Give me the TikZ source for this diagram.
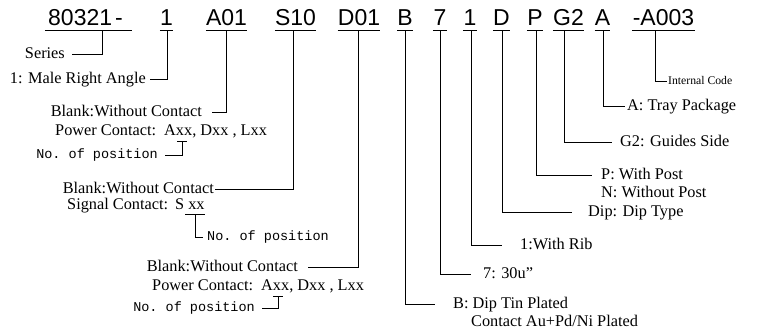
\documentclass[tikz,border=0pt]{standalone}
\usepackage{fontspec}
\setmainfont{Liberation Serif}
\setmonofont{Liberation Mono}
\newfontfamily\codefont{Liberation Sans}
\begin{document}
\begin{tikzpicture}[x=1pt,y=-1pt,
  code/.style={font=\codefont\fontsize{23}{23}\selectfont, anchor=base, inner xsep=0pt, inner ysep=4.5pt, text depth=0pt},
  uline/.style={line width=1pt},
  conn/.style={line width=0.8pt},
  lab/.style={font=\fontsize{16.3}{17}\selectfont, inner sep=0pt, yshift=-4pt},
  labr/.style={lab, anchor=base west},
  labl/.style={lab, anchor=base east},
  mono/.style={font=\ttfamily\fontsize{13.5}{14}\selectfont, inner sep=0pt, yshift=-3pt},
  small/.style={font=\fontsize{11.7}{12}\selectfont, inner sep=0pt, anchor=base west, yshift=-3pt}]
\useasboundingbox[fill=white] (0,0) rectangle (775,333);
% code items
\node[code, minimum width=87pt] (c0) at (88.5,25.5) {80321\kern3pt-\kern6pt};
\node[code, minimum width=13pt] (c1) at (166.5,25.5) {1};
\node[code, minimum width=41pt] (c2) at (226.5,25.5) {A01};
\node[code, minimum width=39pt] (c3) at (295.5,25.5) {S10};
\node[code, minimum width=42pt] (c4) at (359,25.5) {D01};
\node[code, minimum width=14pt] (c5) at (405,25.5) {B};
\node[code, minimum width=14pt] (c6) at (440,25.5) {7};
\node[code, minimum width=14pt] (c7) at (470,25.5) {1};
\node[code, minimum width=17pt] (c8) at (501.5,25.5) {D};
\node[code, minimum width=16pt] (c9) at (535,25.5) {P};
\node[code, minimum width=23pt] (c10) at (568.5,25.5) {G2};
\node[code, minimum width=15pt] (c11) at (602.5,25.5) {A};
\node[code, minimum width=63pt] (c12) at (663.5,25.5) {-A003};
\foreach \n in {c0,c1,c2,c3,c4,c5,c6,c7,c8,c9,c10,c11,c12}
  \draw[uline] (\n.south west) -- (\n.south east);
% left side
\node[labl] (series) at (65,54) {Series};
\draw[conn] (c0.south -| 102,0) |- ([xshift=7pt,yshift=4pt]series.base east);
\node[labl] (male) at (146,79) {1: Male Right Angle};
\draw[conn] (c1.south -| 167,0) |- ([xshift=4pt,yshift=4pt]male.base east);
% A01
\node[labl] (blankA) at (202,112) {Blank:Without Contact};
\draw[conn] (c2.south -| 226,0) |- ([xshift=10pt,yshift=4pt]blankA.base east);
\node[labr] (powA) at (55,131) {Power Contact:};
\node[labr] (axA) at (164,131) {Axx, Dxx , Lxx};
\coordinate (uA) at ([xshift=18pt,yshift=-6pt]axA.base west);
\draw[conn] ([xshift=-5pt]uA) -- ([xshift=5pt]uA);
\node[mono, anchor=base east] (noA) at (158,155) {No. of position};
\draw[conn] (uA) |- ([xshift=7pt,yshift=3pt]noA.base east);
% S10
\node[labl] (blankS) at (214,189) {Blank:Without Contact};
\draw[conn] (c3.south -| 293,0) |- ([xshift=1pt,yshift=4pt]blankS.base east);
\node[labr] (sig) at (67,205) {Signal Contact:};
\node[labr] (sxx) at (175,205) {S xx};
\coordinate (uS) at ([xshift=20pt,yshift=-5pt]sxx.base west);
\draw[conn] ([xshift=-10pt]uS) -- ([xshift=10pt]uS);
\node[mono, anchor=base west] (noS) at (207,237) {No. of position};
\draw[conn] (uS) |- ([xshift=-4pt,yshift=3pt]noS.base west);
% D01
\node[labl] (blankD) at (298,267) {Blank:Without Contact};
\draw[conn] (c4.south -| 358,0) |- ([xshift=10pt,yshift=4pt]blankD.base east);
\node[labr] (powD) at (152,286) {Power Contact:};
\node[labr] (axD) at (261,286) {Axx, Dxx , Lxx};
\coordinate (uD) at ([xshift=17pt,yshift=-6pt]axD.base west);
\draw[conn] ([xshift=-5pt]uD) -- ([xshift=5pt]uD);
\node[mono, anchor=base east] (noD) at (255,308) {No. of position};
\draw[conn] (uD) |- ([xshift=7pt,yshift=3pt]noD.base east);
% right side
\node[small] (internal) at (668,81) {Internal Code};
\draw[conn] (c12.south -| 655,0) |- ([xshift=-1pt,yshift=3pt]internal.base west);
\node[labr] (tray) at (627,106) {A: Tray Package};
\draw[conn] (c11.south -| 603,0) |- ([xshift=-2pt,yshift=4pt]tray.base west);
\node[labr] (guides) at (620,142) {G2: Guides Side};
\draw[conn] (c10.south -| 564,0) |- ([xshift=-8pt,yshift=4pt]guides.base west);
\node[labr] (postP) at (601,175) {P: With Post};
\node[labr] (postN) at (601,193) {N: Without Post};
\draw[conn] (c9.south -| 536,0) |- ([xshift=-9pt,yshift=4pt]postP.base west);
\node[labr] (dip) at (588,212) {Dip: Dip Type};
\draw[conn] (c8.south -| 502,0) |- ([xshift=-16pt,yshift=4pt]dip.base west);
\node[labr] (rib) at (520,245) {1:With Rib};
\draw[conn] (c7.south -| 471,0) |- ([xshift=-18pt,yshift=4pt]rib.base west);
\node[labr] (gold) at (483,274) {7: 30u\symbol{34}};
\draw[conn] (c6.south -| 440,0) |- ([xshift=-12pt,yshift=4pt]gold.base west);
\node[labr] (plate) at (453,304) {B: Dip Tin Plated};
\node[labr] (plate2) at (471,322) {Contact Au+Pd/Ni Plated};
\draw[conn] (c5.south -| 405,0) |- ([xshift=-18pt,yshift=4pt]plate.base west);
\end{tikzpicture}
\end{document}
